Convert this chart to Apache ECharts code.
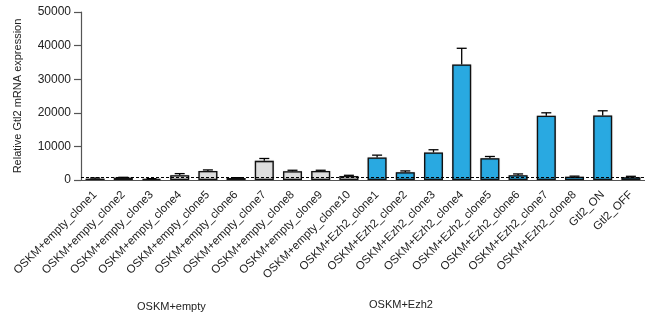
<!DOCTYPE html>
<html><head><meta charset="utf-8">
<script src="https://cdn.jsdelivr.net/npm/echarts@6/dist/echarts.min.js"></script>
<style>html,body{margin:0;padding:0;background:#fff}#c{width:645px;height:323px}</style>
</head><body><div id="c"></div>
<script>
const categories = ['OSKM+empty_clone1','OSKM+empty_clone2','OSKM+empty_clone3','OSKM+empty_clone4','OSKM+empty_clone5','OSKM+empty_clone6','OSKM+empty_clone7','OSKM+empty_clone8','OSKM+empty_clone9','OSKM+empty_clone10',
 'OSKM+Ezh2_clone1','OSKM+Ezh2_clone2','OSKM+Ezh2_clone3','OSKM+Ezh2_clone4','OSKM+Ezh2_clone5','OSKM+Ezh2_clone6','OSKM+Ezh2_clone7','OSKM+Ezh2_clone8','Gtl2_ON','Gtl2_OFF'];
const means = [400, 700, 300, 1400, 2700, 600, 5700, 2600, 2700, 1200,
 6700, 2300, 8200, 34400, 6500, 1400, 19100, 1000, 19200, 800];
const errs = [200, 100, 100, 500, 300, 100, 700, 300, 200, 200,
 700, 400, 800, 4800, 500, 400, 900, 150, 1400, 300];
const groupKind = ['e','e','e','e','e','e','e','e','e','e','z','z','z','z','z','z','z','z','z','z'];
const yTicks = [0, 10000, 20000, 30000, 40000, 50000];
const thresholdValue = 800;
const groupLabels = ['OSKM+empty', 'OSKM+Ezh2'];

const colors = {e: '#dedede', z: '#29a9e1'};
const chart = echarts.init(document.getElementById('c'));
const font = 'Liberation Sans, Arial, sans-serif';
chart.setOption({
  animation: false,
  grid: {left: 81, top: 12, width: 572, height: 168},
  xAxis: {
    type: 'category', data: categories,
    axisLine: {lineStyle: {color: '#555', width: 1.2}},
    axisTick: {alignWithLabel: true, length: 7, lineStyle: {color: '#555', width: 1.2}},
    axisLabel: {rotate: 45, interval: 0, margin: 13, fontSize: 11.5, color: '#222', fontFamily: font}
  },
  yAxis: {
    type: 'value', min: 0, max: 50000, interval: 10000,
    name: 'Relative Gtl2 mRNA expression', nameLocation: 'middle', nameGap: 58,
    nameTextStyle: {fontSize: 11, color: '#222', fontFamily: font},
    axisLine: {show: true, lineStyle: {color: '#555', width: 1.2}},
    axisTick: {show: true, length: 7, lineStyle: {color: '#555', width: 1.2}},
    axisLabel: {fontSize: 12, color: '#222', fontFamily: font, margin: 10,
      formatter: v => yTicks.includes(v) ? String(v) : ''},
    splitLine: {show: false}
  },
  series: [
    {
      type: 'bar', barWidth: 19,
      data: means.map((v, i) => ({value: v, itemStyle: {color: colors[groupKind[i]]}})),
      itemStyle: {borderColor: '#111', borderWidth: 1.3, shadowColor: 'rgba(0,0,0,0.35)', shadowBlur: 1},
      markLine: {
        symbol: 'none', silent: true, label: {show: false},
        lineStyle: {color: '#000', type: [3, 2], width: 1},
        data: [{yAxis: thresholdValue}]
      },
      z: 2
    },
    {
      type: 'custom', z: 3,
      data: means.map((v, i) => [i, v, v + errs[i]]),
      renderItem: function (params, api) {
        const x = api.value(0);
        const p0 = api.coord([x, api.value(1)]);
        const p1 = api.coord([x, api.value(2)]);
        const hw = 5;
        return {type: 'group', children: [
          {type: 'line', shape: {x1: p0[0], y1: p0[1], x2: p1[0], y2: p1[1]}, style: {stroke: '#000', lineWidth: 1.3}},
          {type: 'line', shape: {x1: p1[0] - hw, y1: p1[1], x2: p1[0] + hw, y2: p1[1]}, style: {stroke: '#000', lineWidth: 1.3}}
        ]};
      }
    }
  ],
  graphic: [
    {type: 'text', left: 137, top: 301, style: {text: groupLabels[0], fontSize: 11, fill: '#222', fontFamily: font}},
    {type: 'text', left: 369, top: 299, style: {text: groupLabels[1], fontSize: 11, fill: '#222', fontFamily: font}}
  ]
});
</script></body></html>
